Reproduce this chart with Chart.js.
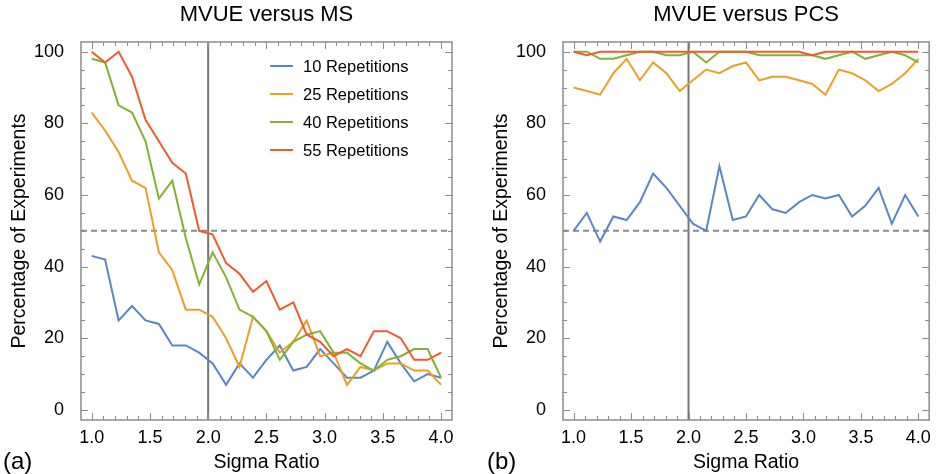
<!DOCTYPE html>
<html>
<head>
<meta charset="utf-8">
<script src="https://cdn.jsdelivr.net/npm/chart.js@4.4.1/dist/chart.umd.min.js"></script>
<style>
  body { margin: 0; background: #fff; }
  #wrap { position: relative; width: 938px; height: 474px; }
  #leftBox { position: absolute; left: 0; top: 0; }
  #rightBox { position: absolute; left: 482px; top: 0; }
</style>
</head>
<body>
<div id="wrap">
  <div id="leftBox"><canvas id="msChart" width="482" height="474"></canvas></div>
  <div id="rightBox"><canvas id="pcsChart" width="456" height="474"></canvas></div>
</div>
<script>
// sigma ratio values (27 points from 1 to 4)
const sigmaRatio = [1.000, 1.115, 1.231, 1.346, 1.462, 1.577, 1.692, 1.808, 1.923,
    2.038, 2.154, 2.269, 2.385, 2.500, 2.615, 2.731, 2.846, 2.962,
    3.077, 3.192, 3.308, 3.423, 3.538, 3.654, 3.769, 3.885, 4.000];

const repLabels = ['10 Repetitions', '25 Repetitions', '40 Repetitions', '55 Repetitions'];
const repColors = ['#5a85c6', '#eaa026', '#84b133', '#f15a2d'];

// MVUE versus MS
const msRep10 = [43, 42, 25, 29, 25, 24, 18, 18, 16, 13, 7, 13, 9, 14, 18, 11, 12, 17, 13, 9, 9, 11, 19, 13, 8, 10, 9];
const msRep25 = [83, 78, 72, 64, 62, 44, 39, 28, 28, 26, 20, 12, 26, 22, 16, 19, 25, 15, 16, 7, 12, 11, 13, 13, 11, 11, 7];
const msRep40 = [98, 97, 85, 83, 75, 59, 64, 48, 35, 44, 37, 28, 26, 22, 14, 19, 21, 22, 16, 16, 13, 11, 14, 15, 17, 17, 9];
const msRep55 = [100, 97, 100, 93, 81, 75, 69, 66, 50, 49, 41, 38, 33, 36, 28, 30, 21, 19, 15, 17, 15, 22, 22, 20, 14, 14, 16];

// MVUE versus PCS
const pcsRep10 = [50, 55, 47, 54, 53, 58, 66, 62, 57, 52, 50, 68, 53, 54, 60, 56, 55, 58, 60, 59, 60, 54, 57, 62, 52, 60, 54];
const pcsRep25 = [90, 89, 88, 94, 98, 92, 97, 94, 89, 92, 95, 94, 96, 97, 92, 93, 93, 92, 91, 88, 95, 94, 92, 89, 91, 94, 98];
const pcsRep40 = [100, 100, 98, 98, 99, 100, 100, 99, 99, 100, 97, 100, 100, 100, 99, 99, 99, 99, 99, 98, 99, 100, 98, 99, 100, 99, 97];
const pcsRep55 = [100, 99, 100, 100, 100, 100, 100, 100, 100, 100, 100, 100, 100, 100, 100, 100, 100, 100, 99, 100, 100, 100, 100, 100, 100, 100, 100];

const xTicks = [1.0, 1.5, 2.0, 2.5, 3.0, 3.5, 4.0];
const yTicks = [0, 20, 40, 60, 80, 100];

const fontFamily = '"Liberation Sans", Arial, Helvetica, sans-serif';

// frame, inward ticks, reference lines, titles and legend
const framePlugin = {
    id: 'frame',
    beforeDatasetsDraw(chart, args, o) {
        const { ctx, chartArea: a, scales: { x, y } } = chart;
        ctx.save();
        // solid vertical line at sigma ratio 2
        const vx = x.getPixelForValue(o.refX);
        ctx.strokeStyle = '#767676';
        ctx.lineWidth = 2;
        ctx.beginPath();
        ctx.moveTo(vx, a.top);
        ctx.lineTo(vx, a.bottom);
        ctx.stroke();
        // dashed line at 50%
        const hy = y.getPixelForValue(o.refY);
        ctx.strokeStyle = '#8a8a8a';
        ctx.setLineDash([6, 4]);
        ctx.beginPath();
        ctx.moveTo(a.left, hy);
        ctx.lineTo(a.right, hy);
        ctx.stroke();
        ctx.restore();
    },
    afterDatasetsDraw(chart, args, o) {
        const { ctx, chartArea: a, scales: { x, y } } = chart;
        ctx.save();
        ctx.strokeStyle = '#8c8c8c';
        ctx.lineWidth = 1.5;
        ctx.strokeRect(a.left, a.top, a.right - a.left, a.bottom - a.top);
        ctx.lineWidth = 1;
        ctx.beginPath();
        for (let k = 10; k <= 40; k++) {
            const px = Math.round(x.getPixelForValue(k / 10)) + 0.5;
            const len = k % 5 === 0 ? 7 : 4;
            ctx.moveTo(px, a.bottom);
            ctx.lineTo(px, a.bottom - len);
            ctx.moveTo(px, a.top);
            ctx.lineTo(px, a.top + len);
        }
        for (let v = 0; v <= 100; v += 5) {
            const py = Math.round(y.getPixelForValue(v)) + 0.5;
            const len = v % 20 === 0 ? 7 : 4;
            ctx.moveTo(a.left, py);
            ctx.lineTo(a.left + len, py);
            ctx.moveTo(a.right, py);
            ctx.lineTo(a.right - len, py);
        }
        ctx.stroke();
        ctx.restore();
    },
    afterDraw(chart, args, o) {
        const { ctx, chartArea: a } = chart;
        ctx.save();
        ctx.fillStyle = '#000';
        // plot title centred over the frame
        ctx.font = '22px ' + fontFamily;
        ctx.textAlign = 'center';
        ctx.textBaseline = 'middle';
        ctx.fillText(o.title, (a.left + a.right) / 2, 15);
        // panel letter
        ctx.font = '24px ' + fontFamily;
        ctx.textAlign = 'left';
        ctx.fillText(o.panel, o.panelX, 462);
        // legend inside the plot
        if (o.legend) {
            ctx.font = '16.5px ' + fontFamily;
            chart.data.datasets.forEach((ds, i) => {
                const ly = 66 + i * 28;
                ctx.strokeStyle = ds.borderColor;
                ctx.lineWidth = 2;
                ctx.beginPath();
                ctx.moveTo(270, ly);
                ctx.lineTo(293, ly);
                ctx.stroke();
                ctx.fillStyle = '#000';
                ctx.fillText(ds.label, 303, ly + 1);
            });
        }
        ctx.restore();
    }
};

function makeChart(canvasId, series, opts) {
    const ctx = document.getElementById(canvasId).getContext('2d');
    return new Chart(ctx, {
        type: 'line',
        data: {
            labels: sigmaRatio,
            datasets: series.map((values, i) => ({
                label: repLabels[i],
                data: values.map((v, j) => ({ x: sigmaRatio[j], y: v })),
                borderColor: repColors[i],
                backgroundColor: repColors[i],
                borderWidth: 2,
                pointRadius: 0,
                tension: 0,
                order: series.length - i
            }))
        },
        options: {
            responsive: false,
            animation: false,
            layout: {
                padding: { top: 42, right: opts.rightPad, left: 0, bottom: 0 }
            },
            plugins: {
                legend: { display: false },
                title: { display: false },
                tooltip: { enabled: false },
                frame: opts.frame
            },
            scales: {
                x: {
                    type: 'linear',
                    min: 0.908,
                    max: 4.094,
                    afterBuildTicks: scale => { scale.ticks = xTicks.map(v => ({ value: v })); },
                    afterFit: scale => { scale.height = 54; },
                    grid: { display: false, drawTicks: false },
                    border: { display: false },
                    ticks: {
                        color: '#000',
                        padding: 7,
                        maxRotation: 0,
                        font: { size: 18, family: fontFamily },
                        callback: v => Number(v).toFixed(1)
                    },
                    title: {
                        display: true,
                        text: 'Sigma Ratio',
                        color: '#000',
                        padding: 0,
                        font: { size: 19.5, family: fontFamily }
                    }
                },
                y: {
                    min: -2.8,
                    max: 102.7,
                    afterBuildTicks: scale => { scale.ticks = yTicks.map(v => ({ value: v })); },
                    afterFit: scale => { scale.width = 81; },
                    grid: { display: false, drawTicks: false },
                    border: { display: false },
                    ticks: {
                        color: '#000',
                        padding: 17,
                        font: { size: 18, family: fontFamily }
                    },
                    title: {
                        display: true,
                        text: 'Percentage of Experiments',
                        color: '#000',
                        padding: { top: 8, bottom: 0 },
                        font: { size: 19.5, family: fontFamily }
                    }
                }
            }
        },
        plugins: [framePlugin]
    });
}

makeChart('msChart', [msRep10, msRep25, msRep40, msRep55], {
    rightPad: 30,
    frame: { refX: 2.0, refY: 50, title: 'MVUE versus MS', panel: '(a)', panelX: 3, legend: true }
});

makeChart('pcsChart', [pcsRep10, pcsRep25, pcsRep40, pcsRep55], {
    rightPad: 4,
    frame: { refX: 2.0, refY: 50, title: 'MVUE versus PCS', panel: '(b)', panelX: 5, legend: false }
});
</script>
</body>
</html>
